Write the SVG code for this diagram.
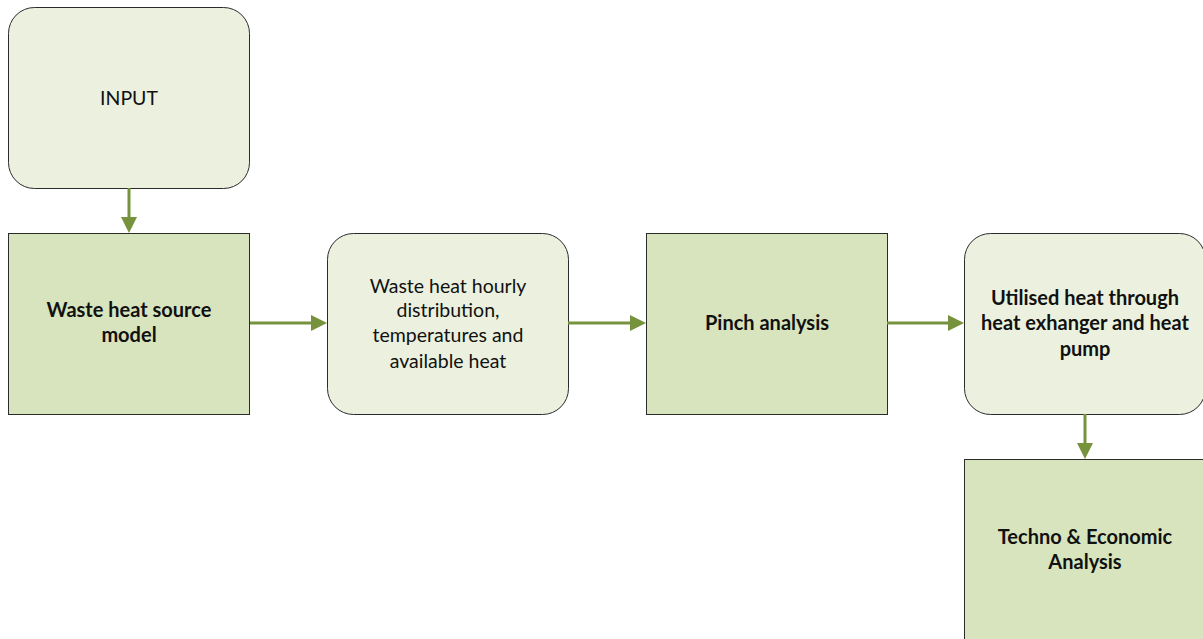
<svg xmlns="http://www.w3.org/2000/svg" width="1203" height="639" viewBox="0 0 1203 639">
<style>
.lt{fill:#ebf1de;stroke:#2b2b2b;stroke-width:1}
.dk{fill:#d7e4bd;stroke:#2b2b2b;stroke-width:1}
text{font-family:Lato,"Liberation Sans",sans-serif;font-size:19.5px;fill:#111;text-anchor:middle}
.b{font-weight:bold;font-size:20px}
.c{stroke:#76923c;stroke-width:3;fill:none}
.h{fill:#76923c}
</style>
<rect width="1203" height="639" fill="#fff"/>
<g id="input"><rect class="lt" x="8.5" y="7.5" width="241" height="181" rx="26"/><text x="129" y="105">INPUT</text></g>
<g id="source"><rect class="dk" x="8.5" y="233.5" width="241" height="181"/><text class="b" x="129" y="317">Waste heat source</text><text class="b" x="129" y="342">model</text></g>
<g id="hourly"><rect class="lt" x="327.5" y="233.5" width="241" height="181" rx="26"/><text x="448" y="293">Waste heat hourly</text><text x="448" y="317">distribution,</text><text x="448" y="342">temperatures and</text><text x="448" y="368">available heat</text></g>
<g id="pinch"><rect class="dk" x="646.5" y="233.5" width="241" height="181"/><text class="b" x="767" y="330">Pinch analysis</text></g>
<g id="utilised"><rect class="lt" x="964.5" y="233.5" width="241" height="181" rx="26"/><text class="b" x="1085" y="305">Utilised heat through</text><text class="b" x="1085" y="330">heat exhanger and heat</text><text class="b" x="1085" y="356">pump</text></g>
<g id="techno"><rect class="dk" x="964.5" y="459.5" width="241" height="190"/><text class="b" x="1085" y="544">Techno &amp; Economic</text><text class="b" x="1085" y="569">Analysis</text></g>
<g id="connectors">
<line class="c" x1="129" y1="188" x2="129" y2="217"/><path class="h" d="M121,217 L137,217 L129,233 Z"/>
<line class="c" x1="250" y1="323" x2="311" y2="323"/><path class="h" d="M311,315 L327,323 L311,331 Z"/>
<line class="c" x1="568" y1="323" x2="630" y2="323"/><path class="h" d="M630,315 L646,323 L630,331 Z"/>
<line class="c" x1="887" y1="323" x2="948" y2="323"/><path class="h" d="M948,315 L964,323 L948,331 Z"/>
<line class="c" x1="1085" y1="414" x2="1085" y2="443"/><path class="h" d="M1077,443 L1093,443 L1085,459 Z"/>
</g>
</svg>
